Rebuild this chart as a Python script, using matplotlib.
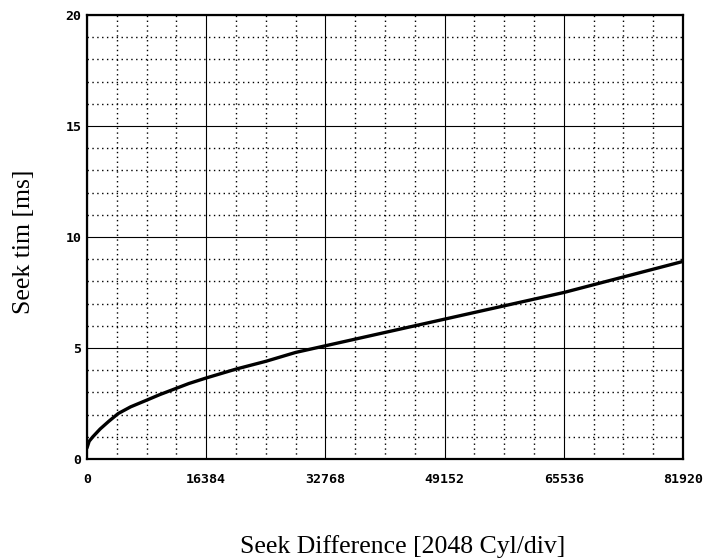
import numpy as np
import matplotlib
matplotlib.use("Agg")
import matplotlib.pyplot as plt
from matplotlib.ticker import MultipleLocator

# seek curve
seekDiff = [0, 300, 800, 1800, 3000, 4300, 6000, 8200, 10000, 12400, 14000, 16384,
            20480, 24576, 28672, 32768, 36864, 40960, 45056, 49152, 53248, 57344,
            61440, 65536, 69632, 73728, 77824, 81920]
seekTime = [0.5, 0.8, 1.0, 1.35, 1.7, 2.05, 2.35, 2.65, 2.9, 3.2, 3.4, 3.65,
            4.05, 4.4, 4.8, 5.1, 5.4, 5.7, 6.0, 6.3, 6.6, 6.9, 7.2, 7.5,
            7.85, 8.2, 8.55, 8.9]

xTicks = [0, 16384, 32768, 49152, 65536, 81920]
yTicks = [0, 5, 10, 15, 20]

fig = plt.figure(figsize=(7.12, 5.59), dpi=100)
ax = fig.add_axes([87/712, 1 - 459/559, 596/712, 444/559])

ax.plot(seekDiff, seekTime, color="black", lw=2.4, solid_capstyle="round")

ax.set_xlim(0, 81920)
ax.set_ylim(0, 20)
ax.set_xticks(xTicks)
ax.set_yticks(yTicks)
ax.xaxis.set_minor_locator(MultipleLocator(4096))
ax.yaxis.set_minor_locator(MultipleLocator(1))

ax.grid(which="major", color="black", lw=0.8, ls="-")
ax.grid(which="minor", color="black", lw=1.0, ls=(0, (1, 2.5)))
ax.set_axisbelow(True)

ax.tick_params(which="both", length=0)
ax.tick_params(axis="x", pad=10)
ax.tick_params(axis="y", pad=4)
for lab in ax.get_xticklabels() + ax.get_yticklabels():
    lab.set_family("DejaVu Sans Mono")
    lab.set_fontsize(9.5)
    lab.set_weight("bold")

for s in ax.spines.values():
    s.set_linewidth(1.6)

ax.set_xlabel("Seek Difference [2048 Cyl/div]", family="Liberation Serif", fontsize=18.5)
ax.set_ylabel("Seek tim [ms]", family="Liberation Serif", fontsize=18.5)
ax.xaxis.label.set_va("center")
ax.yaxis.label.set_va("center")
ax.xaxis.set_label_coords(0.530, -0.196)
ax.yaxis.set_label_coords(-0.106, 0.489)

fig.savefig("out.png", dpi=100)
